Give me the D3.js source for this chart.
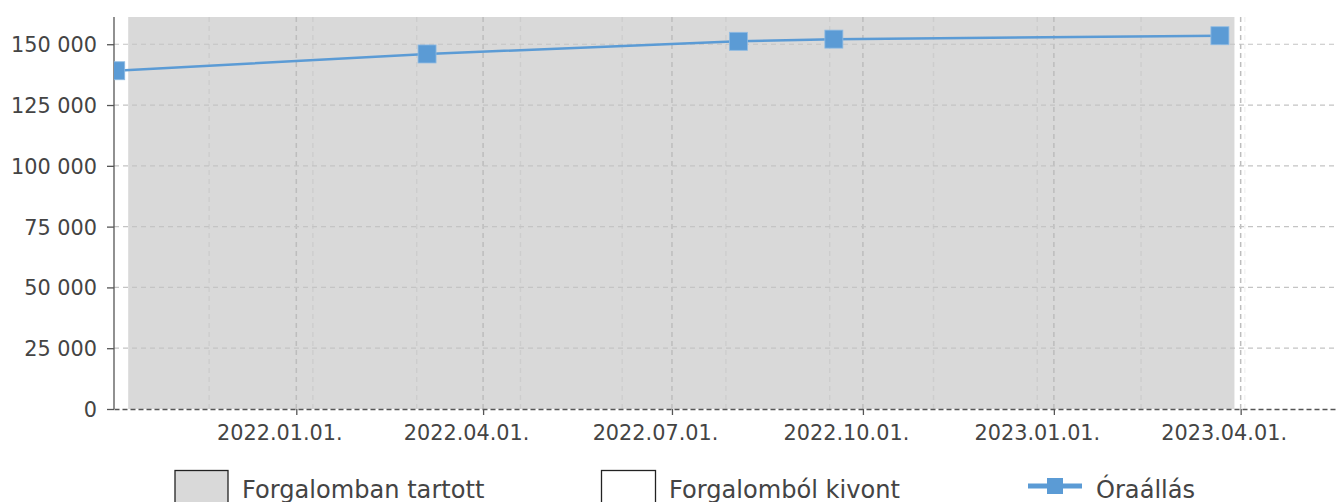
<!DOCTYPE html>
<html>
<head>
<meta charset="utf-8">
<script src="https://cdn.jsdelivr.net/npm/d3@7"></script>
<style>
  body { margin: 0; background: #fff; }
  svg { display: block; font-family: "DejaVu Sans", sans-serif; }
</style>
</head>
<body>
<svg></svg>
<script>
// data
const readDates = ["2021-10-06", "2022-03-05", "2022-08-02", "2022-09-17", "2023-03-22"];
const readValues = [139100, 146000, 151200, 152100, 153500];

const activeStart = "2021-10-12";
const activeEnd = "2023-03-29";

const xStart = "2021-10-05T04:00";
const xEnd = "2023-05-17T10:00";

const majorTicks = ["2022-01-01", "2022-04-01", "2022-07-01", "2022-10-01", "2023-01-01", "2023-04-01"];
const minorTicks = ["2021-11-20", "2022-01-09", "2022-02-28", "2022-04-19", "2022-06-07", "2022-07-27",
  "2022-09-15", "2022-11-04", "2022-12-24", "2023-02-12", "2023-04-03"];
const yTicks = [0, 25000, 50000, 75000, 100000, 125000, 150000];
const yMax = 161200;

const legendLabels = ["Forgalomban tartott", "Forgalomból kivont", "Óraállás"];

//setting
const Width = 1337;
const Height = 502;
const mLeft = 114, mTop = 17, mRight = 1337, mBottom = 409;
const blue = "#5b9bd5";
const tickFont = "20.8px";

const svg = d3.select("svg").attr("width", Width).attr("height", Height);
const parse = (s) => new Date(s + (s.length === 10 ? "T00:00Z" : "Z"));

const x = d3.scaleUtc().domain([parse(xStart), parse(xEnd)]).range([mLeft, mRight]);
const y = d3.scaleLinear().domain([0, yMax]).range([mBottom, mTop]);

const hu = d3.formatLocale({ decimal: ",", thousands: " ", grouping: [3], currency: ["", " Ft"] });
const yFmt = hu.format(",d");
const xFmt = d3.utcFormat("%Y.%m.%d.");

svg.append("defs").append("clipPath").attr("id", "plot")
  .append("rect").attr("x", mLeft).attr("y", mTop - 20).attr("width", mRight - mLeft).attr("height", mBottom - mTop + 20);

// in-service band
svg.append("rect")
  .attr("x", x(parse(activeStart)))
  .attr("y", mTop)
  .attr("width", x(parse(activeEnd)) - x(parse(activeStart)))
  .attr("height", mBottom - mTop)
  .attr("fill", "#d9d9d9");

// grid
const grid = svg.append("g");
grid.selectAll(".minor")
  .data(minorTicks)
  .join("line")
  .attr("x1", (d) => x(parse(d))).attr("x2", (d) => x(parse(d)))
  .attr("y1", mTop).attr("y2", mBottom)
  .attr("stroke", "rgba(0,0,0,0.05)")
  .attr("stroke-width", 1.5)
  .attr("stroke-dasharray", "5,4");

grid.selectAll(".major")
  .data(majorTicks)
  .join("line")
  .attr("x1", (d) => x(parse(d))).attr("x2", (d) => x(parse(d)))
  .attr("y1", mTop).attr("y2", mBottom)
  .attr("stroke", "#bdbdbd")
  .attr("stroke-width", 1.5)
  .attr("stroke-dasharray", "5,4");

grid.selectAll(".hgrid")
  .data(yTicks.filter((d) => d > 0))
  .join("line")
  .attr("x1", mLeft).attr("x2", mRight)
  .attr("y1", (d) => y(d)).attr("y2", (d) => y(d))
  .attr("stroke", "#c4c4c4")
  .attr("stroke-width", 1.2)
  .attr("stroke-dasharray", "5,4");

// y axis
const yAxis = svg.append("g").attr("transform", `translate(${mLeft},0)`)
  .call(d3.axisLeft(y).tickValues(yTicks).tickFormat(yFmt).tickSize(7).tickSizeOuter(0).tickPadding(10));
yAxis.select(".domain").attr("d", `M0,${mTop}V${mBottom}`).attr("stroke", "#555").attr("stroke-width", 1.3);
yAxis.selectAll(".tick line").attr("stroke", "#555").attr("stroke-width", 1.3);
yAxis.selectAll(".tick text").attr("fill", "#444").style("font-size", tickFont)
  .style("font-family", "DejaVu Sans").attr("dy", "0.36em");

// x axis
const xAxis = svg.append("g").attr("transform", `translate(0,${mBottom})`)
  .call(d3.axisBottom(x).tickValues(majorTicks.map(parse)).tickFormat(xFmt).tickSize(6).tickSizeOuter(0).tickPadding(0));
xAxis.select(".domain").attr("stroke", "#555").attr("stroke-width", 1.3).attr("stroke-dasharray", "5,3");
xAxis.selectAll(".tick line").attr("stroke", "#555").attr("stroke-width", 1.3);
xAxis.selectAll(".tick text").attr("fill", "#444").style("font-size", tickFont)
  .style("font-family", "DejaVu Sans")
  .attr("x", -17).attr("y", 31).attr("dy", 0);

// odometer line
const pts = readDates.map((d, i) => [parse(d), readValues[i]]);
const plot = svg.append("g").attr("clip-path", "url(#plot)");
plot.append("path")
  .datum(pts)
  .attr("d", d3.line().x((d) => x(d[0])).y((d) => y(d[1])))
  .attr("fill", "none")
  .attr("stroke", blue)
  .attr("stroke-width", 2.5);

plot.selectAll("rect.mk")
  .data(pts)
  .join("rect")
  .attr("class", "mk")
  .attr("x", (d) => x(d[0]) - 9)
  .attr("y", (d) => y(d[1]) - 9)
  .attr("width", 18).attr("height", 18)
  .attr("fill", blue)
  .attr("stroke", "#8fbbe3")
  .attr("stroke-width", 0.8);

// legend
const lg = svg.append("g").style("font-size", "24.1px").style("font-family", "DejaVu Sans");
lg.append("rect").attr("x", 175).attr("y", 470.5).attr("width", 53).attr("height", 40)
  .attr("fill", "#d9d9d9").attr("stroke", "#222").attr("stroke-width", 1.3);
lg.append("rect").attr("x", 601.5).attr("y", 470.5).attr("width", 54).attr("height", 40)
  .attr("fill", "#fff").attr("stroke", "#222").attr("stroke-width", 1.3);
lg.append("line").attr("x1", 1028).attr("x2", 1082).attr("y1", 486).attr("y2", 486)
  .attr("stroke", blue).attr("stroke-width", 5);
lg.append("rect").attr("x", 1047).attr("y", 478).attr("width", 16).attr("height", 16).attr("fill", blue);

lg.selectAll("text")
  .data(legendLabels)
  .join("text")
  .text((d) => d)
  .attr("x", (d, i) => [242, 669, 1096][i])
  .attr("y", 497.5)
  .attr("fill", "#444");
</script>
</body>
</html>
